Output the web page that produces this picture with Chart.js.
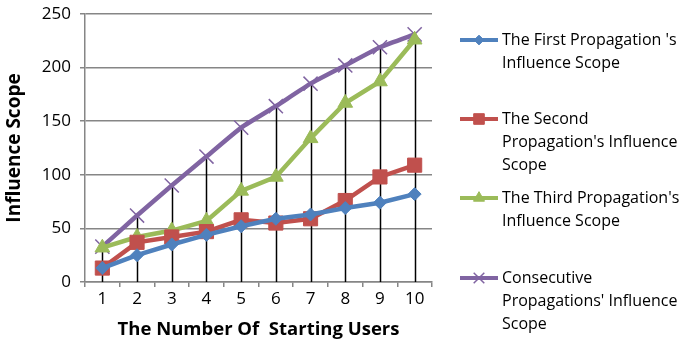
<!DOCTYPE html>
<html>
<head>
<meta charset="utf-8">
<script src="https://cdn.jsdelivr.net/npm/chart.js@4.4.1/dist/chart.umd.min.js"></script>
<style>
  html, body { margin: 0; padding: 0; background: #fff; }
  #wrap { width: 683px; height: 344px; position: relative; }
</style>
</head>
<body>
<div id="wrap"><canvas id="chart" width="683" height="344"></canvas></div>
<script>
// starting users on the x axis
const startingUsers = ["1", "2", "3", "4", "5", "6", "7", "8", "9", "10"];

// influence scope per propagation round
const firstScope = [13, 25, 35, 44, 52, 59, 63, 69, 74, 82];
const secondScope = [13, 37, 42, 47, 58, 55, 59, 76, 98, 109];
const thirdScope = [32, 42, 48, 57, 85, 98, 134, 167, 187, 226];
const consecutiveScope = [33, 62, 90, 117, 144, 164, 185, 202, 219, 231];

const seriesNames = [
  ["The First Propagation 's", "Influence Scope"],
  ["The Second", "Propagation's Influence", "Scope"],
  ["The Third Propagation's", "Influence Scope"],
  ["Consecutive", "Propagations' Influence", "Scope"]
];

const FONT = "'Open Sans', 'Liberation Sans', sans-serif";

const mkSeries = (data, color, style, radius, extra) => Object.assign({
  data: data,
  borderColor: color,
  backgroundColor: color,
  borderWidth: 4.5,
  pointStyle: style,
  pointRadius: radius,
  pointBorderWidth: 1,
  tension: 0
}, extra || {});

// vertical black lines from each category's highest point down to the axis
const dropLines = {
  id: "dropLines",
  beforeDatasetsDraw(chart) {
    const { ctx, scales: { x, y } } = chart;
    ctx.save();
    ctx.strokeStyle = "#000";
    ctx.lineWidth = 1.5;
    startingUsers.forEach((_, i) => {
      const top = Math.max(...chart.data.datasets.map(d => d.data[i]));
      const px = Math.round(x.getPixelForValue(i)) + 0.5;
      ctx.beginPath();
      ctx.moveTo(px, y.getPixelForValue(top));
      ctx.lineTo(px, y.getPixelForValue(0));
      ctx.stroke();
    });
    ctx.restore();
  }
};

// legend on the right with wrapped names
const sideLegend = {
  id: "sideLegend",
  afterDraw(chart) {
    const { ctx } = chart;
    const rows = [40, 119, 198, 278];
    ctx.save();
    chart.data.datasets.forEach((ds, i) => {
      const yy = rows[i];
      ctx.strokeStyle = ds.borderColor;
      ctx.lineWidth = 4;
      ctx.beginPath();
      ctx.moveTo(460, yy);
      ctx.lineTo(498, yy);
      ctx.stroke();
      ctx.fillStyle = ds.backgroundColor;
      ctx.strokeStyle = ds.borderColor;
      ctx.lineWidth = ds.pointBorderWidth;
      Chart.helpers.drawPoint(ctx, { pointStyle: ds.pointStyle, radius: ds.pointRadius * 0.75, borderWidth: ds.pointBorderWidth }, 479, yy);
      ctx.fillStyle = "#000";
      ctx.font = "16px " + FONT;
      ctx.textBaseline = "middle";
      seriesNames[i].forEach((line, k) => ctx.fillText(line, 502, yy + k * 23));
    });
    ctx.restore();
  }
};

new Chart(document.getElementById("chart"), {
  type: "line",
  data: {
    labels: startingUsers,
    datasets: [
      mkSeries(firstScope, "#4F81BD", "rectRot", 6.5),
      mkSeries(secondScope, "#C0504D", "rect", 10),
      mkSeries(thirdScope, "#9BBB59", "triangle", 8.5),
      mkSeries(consecutiveScope, "#8064A2", "crossRot", 10, { pointBorderWidth: 1.5, tension: 0.12 })
    ]
  },
  plugins: [dropLines, sideLegend],
  options: {
    responsive: false,
    animation: false,
    layout: { padding: { left: 0, right: 251, top: 14, bottom: 0 } },
    plugins: { legend: { display: false }, tooltip: { enabled: false } },
    scales: {
      x: {
        offset: true,
        afterFit(s) { s.height = 62; s.paddingLeft = 0; s.paddingRight = 0; },
        grid: { offset: true, drawOnChartArea: false, color: "#868686", tickLength: 5, lineWidth: 1.5 },
        border: { color: "#868686", width: 1.5 },
        ticks: { color: "#000", font: { size: 17, family: FONT }, padding: 2, maxRotation: 0 },
        title: { display: true, text: "The Number Of  Starting Users", color: "#000", font: { size: 18.5, weight: "bold", family: FONT }, padding: 3 }
      },
      y: {
        min: 0,
        max: 250,
        afterFit(s) { s.width = 85; s.paddingTop = 0; s.paddingBottom = 0; },
        ticks: { stepSize: 50, color: "#000", font: { size: 17, family: FONT }, padding: 9 },
        grid: { color: "#868686", tickLength: 5, lineWidth: 1.5 },
        border: { color: "#868686", width: 1.5 },
        title: { display: true, text: "Influence Scope", color: "#000", font: { size: 19, weight: "bold", family: FONT }, padding: 3 }
      }
    }
  }
});
</script>
</body>
</html>
